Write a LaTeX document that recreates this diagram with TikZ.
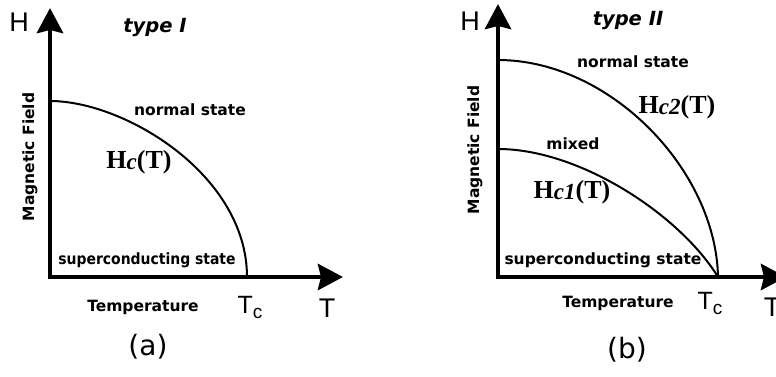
\documentclass[tikz,border=0pt]{standalone}
\usepackage{fontspec}
\setmainfont{Liberation Serif}
\newfontfamily\lab{DejaVu Sans}
\newfontfamily\labc{DejaVu Sans Condensed}
\newfontfamily\axf{Liberation Sans}
\usetikzlibrary{arrows.meta}
\tikzset{
  axis/.style={line width=4.8pt,-{Stealth[length=25pt,width=26pt,inset=3pt]}},
  curve/.style={line width=2pt},
  lbl/.style={font=\lab\bfseries\fontsize{15.5}{16}\selectfont,inner sep=0pt},
  lblc/.style={font=\labc\bfseries\fontsize{15.5}{16}\selectfont,inner sep=0pt},
  ttl/.style={font=\lab\bfseries\itshape\fontsize{19.5}{20}\selectfont,inner sep=0pt},
  axl/.style={font=\axf\fontsize{27}{28}\selectfont,inner sep=0pt},
  tcl/.style={font=\axf\fontsize{25}{26}\selectfont,inner sep=0pt},
  hcl/.style={font=\bfseries\fontsize{26}{28}\selectfont,inner sep=0pt},
  figcap/.style={font=\lab\fontsize{28}{29}\selectfont,inner sep=0pt}
}
\begin{document}
\begin{tikzpicture}[x=1pt,y=-1pt]
\useasboundingbox (0,0) rectangle (776,376);
% ---- panel (a)
\coordinate (ao) at (50,277);
\coordinate (ay) at (50,8);
\coordinate (ax) at (343,277);
\coordinate (ah) at (50,101);
\coordinate (atc) at (247,277);
\draw[axis] ([yshift=2.4pt]ao) -- (ay);
\draw[axis] ([xshift=-2.4pt]ao) -- (ax);
\draw[curve] (ah) .. controls (125,101) and (247,175) .. (atc);
\node[axl] (aH) at (19,22) {H};
\node[ttl] (at1) at (155,27) {type I};
\node[lbl] (an) at (190,110) {normal state};
\node[hcl] (ahc) at (139,162) {H\raisebox{-1.5pt}{\textit{\fontsize{23}{23}\selectfont c}}(T)};
\node[lblc] (asc) at (147,260) {superconducting state};
\node[lbl] (atemp) at (143,307) {Temperature};
\node[tcl] (aTc) at (250,307) {T\raisebox{-5pt}{\fontsize{19}{19}\selectfont c}};
\node[axl] (aT) at (327,308) {T};
\node[figcap] (acap) at (148,347) {(a)};
\node[lbl,rotate=90] (amf) at (30,157) {Magnetic Field};
% ---- panel (b)
\coordinate (bo) at (498,277);
\coordinate (by) at (498,4);
\coordinate (bx) at (786,277);
\coordinate (bh2) at (498,60);
\coordinate (bh1) at (498,149);
\coordinate (btc) at (718,277);
\draw[axis] ([yshift=2.4pt]bo) -- (by);
\draw[axis] ([xshift=-2.4pt]bo) -- (bx);
\draw[curve] (bh2) .. controls (610,60) and (716,170) .. (btc);
\draw[curve] (bh1) .. controls (580,149) and (680,215) .. (btc);
\node[axl] (bH) at (470,21) {H};
\node[ttl] (bt2) at (628,20) {type II};
\node[lbl] (bn) at (633,62) {normal state};
\node[hcl] (bhc2) at (677,107) {H\raisebox{-1.5pt}{\textit{\fontsize{23}{23}\selectfont c2}}(T)};
\node[lbl] (bmx) at (573,144) {mixed};
\node[hcl] (bhc1) at (572,192) {H\raisebox{-1.5pt}{\textit{\fontsize{23}{23}\selectfont c1}}(T)};
\node[lbl] (bsc) at (603,260) {superconducting state};
\node[lbl] (btemp) at (618,303) {Temperature};
\node[tcl] (bTc) at (710,303) {T\raisebox{-5pt}{\fontsize{19}{19}\selectfont c}};
\node[axl] (bT) at (772,307) {T};
\node[figcap] (bcap) at (627,350) {(b)};
\node[lbl,rotate=90] (bmf) at (475,150) {Magnetic Field};
\end{tikzpicture}
\end{document}
